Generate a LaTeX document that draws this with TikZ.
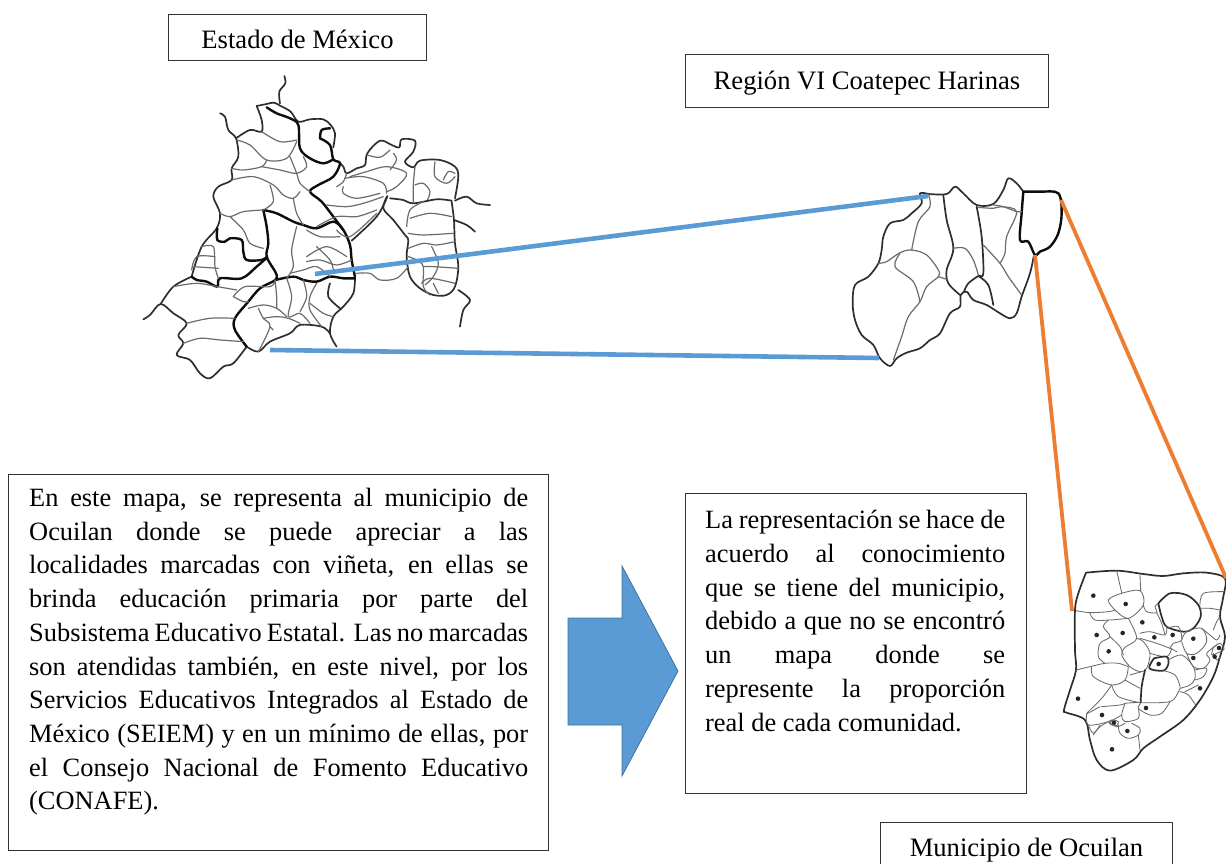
\documentclass[tikz,border=0pt]{standalone}
\usepackage{fontspec}
\setmainfont{Liberation Serif}
\tikzset{
  lbl/.style={draw=black!80,line width=1pt,fill=white,inner sep=0pt,font=\fontsize{26.6}{30}\selectfont},
  mapthin/.style={draw=black!58,line width=1.2pt,line join=round,line cap=round},
  mapmid/.style={draw=black!82,line width=1.7pt,line join=round,line cap=round},
  mapthick/.style={draw=black!95,line width=2.4pt,line join=round,line cap=round},
  bluelink/.style={draw=linkblue,line width=4.6pt},
  orangelink/.style={draw=linkorange,line width=3.8pt},
  txt/.style={inner sep=0pt,anchor=north west,align=justify},
  ptdot/.style={fill=black!85,draw=none,circle,minimum size=4.6pt,inner sep=0pt},
}
\definecolor{linkblue}{HTML}{5B9BD5}
\definecolor{linkorange}{HTML}{ED7D31}
\definecolor{arrowedge}{HTML}{41719C}
\newcommand{\cv}[2][mapthin]{\draw[#1] plot[smooth,tension=0.55] coordinates {#2};}
\begin{document}
\begin{tikzpicture}[x=1pt,y=-1pt]
\useasboundingbox (0,0) rectangle (1226,864);
% ---------- Estado de Mexico
\begin{scope}[shift={(130,70)},x=0.3333pt,y=-0.3333pt]
\cv[mapmid]{(463,18)(466,40)(448,65)(450,100)}
\cv[mapmid]{(380,108)(410,102)(432,98)(452,108)(482,125)(505,155)(540,148)(580,148)(602,165)(615,190)(610,232)}
\cv[mapmid]{(625,275)(640,290)(650,310)(680,295)(705,285)(712,250)(750,212)(785,225)(808,232)(815,208)(855,212)(850,245)(825,275)(850,292)(870,272)(930,270)(975,290)(985,320)(975,385)}
\cv[mapmid]{(975,392)(1010,380)(1040,400)(1080,405)}
\cv[mapmid]{(972,450)(1010,465)(1035,485)}
\cv[mapmid]{(965,395)(972,450)(975,520)(985,590)(975,650)(950,675)(910,675)(870,655)(840,620)(830,560)(835,510)(825,495)(790,450)(760,415)(772,378)}
\cv[mapmid]{(985,660)(1020,690)(1000,720)(990,770)}
\cv[mapmid]{(665,512)(740,440)(772,380)}
\cv[mapthin]{(680,610)(720,610)(750,630)(800,625)(835,590)}
\cv[mapthick]{(400,420)(440,430)(490,455)(520,465)(560,475)(610,455)(640,480)(660,525)(665,570)(675,620)}
\cv[mapmid]{(675,620)(670,670)(640,710)(610,740)(600,790)(620,830)}
\cv[mapmid]{(600,790)(575,770)(510,765)(480,790)(420,815)(385,845)(350,830)}
\cv[mapmid]{(350,830)(310,880)(280,890)(240,925)(210,910)(180,870)(140,855)(160,820)(145,795)(170,760)(130,730)(92,702)(60,735)(40,748)}
\cv[mapmid]{(92,702)(130,650)(185,620)}
\cv[mapmid]{(185,620)(215,530)(260,475)(270,430)(250,380)(265,350)(305,330)(305,295)(325,260)(318,205)(295,180)(285,140)(270,130)}
\cv[mapmid]{(318,205)(360,180)(395,185)(395,150)(380,108)}
% thick inner
\cv[mapthick]{(410,112)(440,130)(480,145)(505,165)(510,235)(540,265)(580,280)(610,268)}
\cv[mapthick]{(570,205)(575,180)(600,175)}
\cv[mapthick]{(570,205)(600,225)(610,268)(630,280)(610,320)(565,345)(540,365)(575,395)(610,440)(640,480)}
\cv[mapthick]{(400,420)(410,470)(415,520)(410,560)(438,610)(436,630)(390,655)(355,695)(315,745)(315,780)(350,830)}
\cv[mapthick]{(436,630)(490,620)(520,630)(560,635)(600,620)(640,625)(675,625)}
\cv[mapthick]{(262,475)(262,510)(285,515)(300,505)(335,510)(340,545)(350,570)(395,570)(412,560)}
\cv[mapthick]{(412,562)(380,590)(335,625)(270,625)(262,650)(230,635)(200,630)(185,620)}
\cv[mapmid]{(600,640)(595,680)(630,715)}
% thin inner
\cv{(320,210)(360,225)(410,270)(470,265)(500,215)}
\cv{(395,185)(450,215)(500,210)}
\cv{(410,270)(395,290)(340,300)(305,295)}
\cv{(395,290)(450,300)(500,310)(530,290)(520,260)}
\cv{(480,260)(500,310)(510,340)(540,365)}
\cv{(305,330)(370,320)(430,345)(460,375)(490,385)(510,365)}
\cv{(270,430)(300,440)(340,425)(400,420)}
\cv{(300,440)(340,480)(360,520)(400,535)}
\cv{(420,345)(430,395)(400,420)}
\cv{(490,385)(500,430)(520,465)}
\cv{(215,530)(250,530)(255,590)(265,625)}
\cv{(185,600)(200,560)(255,560)}
\cv{(190,590)(265,595)}
\cv{(500,470)(485,540)(490,590)(470,625)}
\cv{(530,480)(570,500)(630,500)}
\cv{(480,610)(520,600)(560,590)(600,620)}
\cv{(530,560)(590,530)(650,560)}
\cv{(530,575)(570,570)(620,585)(665,570)}
\cv{(560,530)(600,570)(610,600)}
\cv{(620,480)(660,500)(740,430)}
\cv{(560,470)(620,440)(680,440)(740,420)}
\cv{(590,405)(650,410)(700,400)(760,380)}
\cv{(640,350)(640,370)(680,385)(750,370)}
\cv{(645,325)(700,320)(760,340)(770,370)}
\cv{(660,320)(710,305)(770,290)(830,310)(800,350)(770,365)}
\cv{(712,255)(750,262)(780,240)}
\cv{(780,300)(800,270)(790,250)}
\cv{(620,350)(640,335)(650,310)}
\cv{(855,290)(850,345)(850,395)}
\cv{(915,275)(915,320)(950,340)(975,320)}
\cv{(940,330)(955,305)(975,310)}
\cv{(855,345)(880,340)(900,365)(890,395)}
\cv[mapmid]{(780,385)(820,390)(850,400)(920,388)(965,392)}
\cv{(830,470)(840,420)(880,395)}
\cv{(840,445)(900,430)(965,440)}
\cv{(835,490)(880,495)(970,490)}
\cv{(835,535)(880,520)(920,525)(975,515)}
\cv{(835,560)(860,570)(880,590)(880,650)(900,675)}
\cv{(880,590)(910,590)(985,595)}
\cv{(905,530)(925,580)(910,620)(885,645)}
\cv{(875,640)(900,625)(975,640)}
\cv{(910,640)(925,670)}
\cv{(310,680)(345,650)(420,650)(436,630)}
\cv{(310,680)(340,695)(355,695)}
\cv{(130,650)(200,640)(262,650)(320,660)}
\cv{(170,760)(240,745)(315,745)}
\cv{(160,820)(210,805)(270,810)(340,815)}
\cv{(355,715)(400,705)(440,715)(470,740)}
\cv{(385,715)(400,745)(420,770)(385,845)}
\cv{(400,745)(440,740)(475,745)(510,760)}
\cv{(470,625)(485,680)(475,740)(510,730)(540,760)}
\cv{(435,630)(440,680)(440,715)}
\cv{(520,630)(530,680)(510,725)}
\cv{(560,640)(540,680)(540,720)(575,770)}
\cv{(540,700)(580,730)(610,740)}
\cv{(420,770)(430,780)}
\end{scope}
% ---------- Region VI
\begin{scope}[shift={(840,170)},x=0.3333pt,y=-0.3333pt]
\cv[mapmid]{(265,72)(240,70)(245,100)(215,130)(190,150)(150,160)(130,200)(125,240)(115,280)(85,320)(45,345)(38,400)(45,450)(65,495)(100,525)(120,565)(150,588)(170,565)(200,548)(240,535)(270,510)(300,490)(330,430)(360,410)(362,375)(380,365)(400,390)(440,405)(480,430)(510,445)(530,430)(545,380)(570,310)(582,255)}
\cv[mapmid]{(265,72)(320,72)(345,50)(370,70)(410,105)(460,102)(490,60)(505,25)(530,40)(550,65)}
\cv[mapthick]{(550,65)(600,65)(655,70)(665,130)(655,190)(630,230)(600,245)(585,255)(565,215)(540,210)(545,130)(550,65)}
\cv{(265,72)(270,110)(235,155)(215,240)}
\cv{(115,280)(140,275)(180,248)(215,240)(260,255)(295,300)(295,320)(260,350)(240,395)(205,440)(185,500)(160,570)}
\cv{(180,250)(165,290)(220,335)(240,395)}
\cv[mapmid]{(310,75)(320,150)(340,235)(320,300)(325,340)(360,375)}
\cv{(295,320)(320,328)}
\cv{(340,235)(375,235)(400,270)(415,315)}
\cv[mapmid]{(410,110)(425,200)(430,310)(415,318)(385,340)(372,365)}
\cv[mapmid]{(415,318)(445,345)(460,405)}
\cv{(430,225)(480,280)(505,320)(545,375)}
\cv{(415,112)(460,115)(485,110)(530,125)(500,200)(495,250)(480,280)}
\cv{(460,105)(490,110)(530,125)(545,125)}
\end{scope}
% ---------- Ocuilan
\begin{scope}[shift={(1050,560)},x=0.3333pt,y=-0.3333pt,mapthin/.append style={line width=0.85pt}]
\cv[mapmid]{(108,38)(200,32)(280,42)(340,48)(400,40)(470,38)(525,55)(520,110)(510,170)(525,230)(510,290)(490,350)(450,420)(400,480)(330,530)(280,565)(250,600)(180,632)(140,600)(120,540)(105,480)(50,458)(42,450)(60,390)(78,330)(75,270)(75,150)(85,100)(108,38)}
\cv{(78,152)(120,158)(175,155)(195,150)}
\cv{(195,150)(175,120)(215,100)(270,92)(280,135)(235,175)(195,150)}
\cv{(200,32)(215,98)}
\cv{(270,45)(272,92)}
\cv{(120,160)(135,180)(180,180)(235,175)}
\cv{(175,180)(160,200)(180,230)(150,250)(145,290)(165,310)}
\cv{(180,230)(210,260)(220,285)}
\cv{(235,175)(260,235)(225,262)(215,285)(240,320)(270,335)(290,325)(300,280)(280,245)(260,235)}
\cv{(78,330)(120,320)(165,310)(205,310)(235,320)}
\cv{(125,320)(130,350)(185,375)(225,360)(235,320)}
\cv{(185,375)(155,415)(110,460)}
\cv{(185,375)(205,410)(270,428)}
\cv{(225,360)(270,385)}
\cv{(240,345)(275,335)}
\cv[mapmid]{(325,130)(360,100)(410,105)(445,135)(452,170)(430,205)(400,215)(350,200)(335,170)(325,130)}
\cv{(280,135)(290,155)(320,158)(315,140)(325,130)}
\cv{(320,158)(335,190)(345,225)}
\cv{(270,220)(300,215)(345,225)(350,197)}
\cv{(270,235)(320,250)(360,265)(380,275)}
\cv{(300,280)(350,290)(365,265)}
\cv{(352,205)(385,200)(395,240)(370,250)(360,265)}
\cv{(395,240)(410,215)(455,205)(470,245)(440,280)(410,280)(395,245)}
\cv{(410,280)(430,320)(460,325)(480,300)(470,280)(500,255)}
\cv{(455,205)(480,225)(500,240)(510,225)}
\cv{(452,145)(480,145)(510,150)}
\cv{(450,135)(460,100)(520,95)}
\cv{(490,210)(500,185)(510,170)}
\cv{(490,280)(500,300)(510,290)}
\cv[mapmid]{(312,295)(350,290)(355,312)(340,332)(298,325)(312,295)}
\cv[mapmid]{(285,330)(275,380)(272,428)}
\cv{(340,332)(375,345)(390,380)(385,395)(360,425)(272,428)}
\cv{(355,300)(395,285)(430,320)(435,355)(420,375)(390,385)}
\cv{(435,330)(470,325)(460,350)(435,360)}
\cv{(390,395)(415,405)(440,440)}
\cv{(405,395)(445,375)}
\cv{(225,430)(270,428)(265,445)(300,465)(335,460)(360,425)}
\cv{(225,430)(215,465)(225,485)(265,475)(265,445)}
\cv{(155,440)(210,435)(225,430)}
\cv{(110,462)(150,440)}
\cv{(110,462)(115,495)(175,485)(215,465)}
\cv{(115,495)(130,520)(150,495)}
\cv{(175,485)(200,500)(225,490)}
\cv{(205,495)(210,520)(235,535)(265,525)(270,505)(245,490)}
\cv{(265,525)(270,570)}
\cv{(130,525)(150,500)(185,480)}
\cv{(178,490)(190,480)(205,485)(200,497)(185,495)(178,490)}
\cv{(490,262)(510,250)(522,268)(500,280)(485,285)(490,262)}
\foreach \p [count=\i] in {(130,107),(227,132),(140,225),(218,219),(277,187),(176,274),(313,232),(368,225),(430,236),(430,294),(507,264),(494,290),(326,312),(450,385),(84,416),(288,444),(156,465),(192,488),(232,513),(186,568)}{
  \node[ptdot] (d\i) at \p {};
}
\end{scope}
% ---------- links
\coordinate (st1) at (315,274);
\coordinate (re1) at (928,196);
\coordinate (st2) at (270,350);
\coordinate (re2) at (879,358);
\coordinate (re3) at (1035,255);
\coordinate (oc1) at (1072,611);
\coordinate (re4) at (1061,200);
\coordinate (oc2) at (1226,578);
\draw[bluelink] (st1) -- (re1);
\draw[bluelink] (st2) -- (re2);
\draw[orangelink] (re3) -- (oc1);
\draw[orangelink] (re4) -- (oc2);
% ---------- labels
\node[lbl,minimum width=258pt,minimum height=46pt,anchor=north west] (estado) at (168,14) {\raisebox{-11.3pt}[0pt][0pt]{Estado de México}};
\node[lbl,minimum width=363pt,minimum height=53pt,anchor=north west] (region) at (685,54) {\raisebox{-8.2pt}[0pt][0pt]{Región VI Coatepec Harinas}};
\node[lbl,minimum width=292pt,minimum height=46pt,anchor=north west] (mun) at (880,822) {\raisebox{-11pt}[0pt][0pt]{Municipio de Ocuilan}};
% ---------- text boxes
\node[draw=black!80,line width=1pt,minimum width=540pt,minimum height=376pt,anchor=north west,inner sep=0pt] (bleft) at (8,474) {};
\node[txt,text width=499pt] (tleft) at (29,488) {\fontsize{26.4}{33.7}\selectfont
En este mapa, se representa al municipio de\linebreak
Ocuilan donde se puede apreciar a las\linebreak
localidades marcadas con viñeta, en ellas se\linebreak
brinda educación primaria por parte del\linebreak
Subsistema Educativo Estatal. Las no marcadas\linebreak
son atendidas también, en este nivel, por los\linebreak
Servicios Educativos Integrados al Estado de\linebreak
México (SEIEM) y en un mínimo de ellas, por\linebreak
el Consejo Nacional de Fomento Educativo\linebreak
(CONAFE).\par};
\node[draw=black!80,line width=1pt,minimum width=341pt,minimum height=300pt,anchor=north west,inner sep=0pt] (bright) at (685,493) {};
\node[txt,text width=300pt] (tright) at (705,510) {\fontsize{26.4}{33.8}\selectfont
La representación se hace de\linebreak
acuerdo al conocimiento\linebreak
que se tiene del municipio,\linebreak
debido a que no se encontró\linebreak
un mapa donde se\linebreak
represente la proporción\linebreak
real de cada comunidad.\par};
% ---------- block arrow
\filldraw[fill=linkblue,draw=arrowedge,line width=0.8pt] (568,618) -- (622,618) -- (622,566) -- (678,671) -- (622,776) -- (622,725) -- (568,725) -- cycle;
\end{tikzpicture}
\end{document}
